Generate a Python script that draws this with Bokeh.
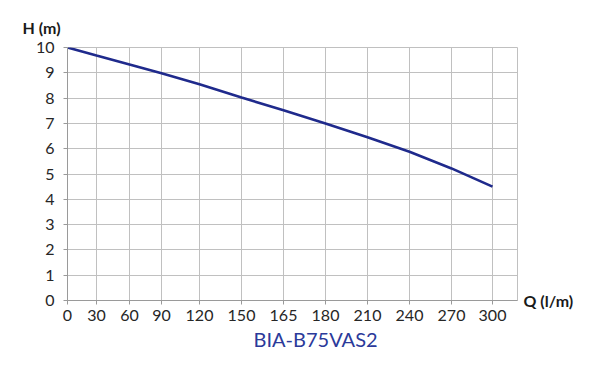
import numpy as np
from bokeh.plotting import figure
from bokeh.models import FixedTicker, LinearAxis, Range1d, Title
from bokeh.embed import file_html
from bokeh.resources import INLINE

# data
q_ticks = [0, 30, 60, 90, 120, 150, 165, 180, 210, 240, 270, 300]
h_values = [10.0, 9.68, 9.33, 8.98, 8.55, 8.02, 7.52, 7.0, 6.45, 5.88, 5.22, 4.5]
y_ticks = [0, 1, 2, 3, 4, 5, 6, 7, 8, 9, 10]
title_text = "BIA-B75VAS2"
x_label = "Q (l/m)"
y_label = "H (m)"

# layout: uneven tick spacing of the original axis (screen positions of each tick)
tick_pos = [0, 29, 62, 94, 132, 174, 216, 258, 300, 342, 384, 425]

xs = np.interp(q_ticks, q_ticks, tick_pos)

FONT = "Lato"
p = figure(width=588, height=374, output_backend="svg", toolbar_location=None,
           x_range=Range1d(0, 450), y_range=Range1d(0, 10),
           min_border_left=67, min_border_right=71, min_border_top=47, min_border_bottom=10)
p.frame_width = 450
p.frame_height = 253

p.line(xs, h_values, line_color="#1f2a8c", line_width=2.6)

p.xaxis.ticker = FixedTicker(ticks=tick_pos)
p.xaxis.major_label_overrides = {t: str(q) for t, q in zip(tick_pos, q_ticks)}
p.yaxis.ticker = FixedTicker(ticks=y_ticks)

for ax in (p.xaxis, p.yaxis):
    ax.axis_line_color = "#9a9a9a"
    ax.major_tick_line_color = "#9a9a9a"
    ax.minor_tick_line_color = None
    ax.major_tick_in = 0
    ax.major_tick_out = 4
    ax.major_label_text_font = FONT
    ax.major_label_text_font_size = "16px"
    ax.major_label_text_color = "#262626"
p.xaxis.major_label_standoff = 5
p.yaxis.major_label_standoff = 9

p.xgrid.ticker = FixedTicker(ticks=tick_pos)
p.ygrid.ticker = FixedTicker(ticks=y_ticks)
p.grid.grid_line_color = "#c0c0c0"
p.grid.grid_line_width = 1
p.outline_line_color = "#c0c0c0"
p.outline_line_width = 1

# model name below the x axis
sub = Title(text=title_text, align="left", offset=186, text_font=FONT,
            text_font_size="20px", text_font_style="normal", text_color="#2b3a9a",
            standoff=2)
p.add_layout(sub, "below")

# "Q (l/m)" at the right end of the x axis, as a single-tick right axis
qax = LinearAxis(ticker=FixedTicker(ticks=[0]), major_label_overrides={0: x_label})
qax.axis_line_color = None
qax.major_tick_line_color = None
qax.minor_tick_line_color = None
qax.major_tick_out = 0
qax.major_tick_in = 0
qax.major_label_text_font = FONT
qax.major_label_text_font_size = "16px"
qax.major_label_text_font_style = "bold"
qax.major_label_text_color = "#1a1a1a"
qax.major_label_standoff = 6
p.add_layout(qax, "right")

# "H (m)" above the y axis as the title
p.title.text = y_label
p.title.align = "left"
p.title.offset = -45
p.title.text_font = FONT
p.title.text_font_size = "16px"
p.title.text_font_style = "bold"
p.title.text_color = "#1a1a1a"
p.title.standoff = 22

open("out.html", "w").write(file_html(p, INLINE))
